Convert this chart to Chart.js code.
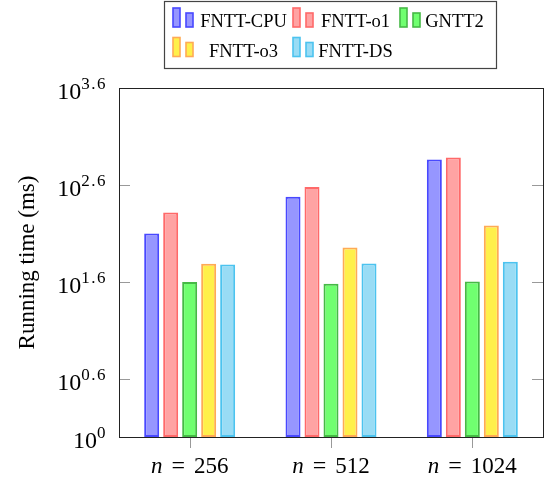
<!DOCTYPE html>
<html>
<head>
<meta charset="utf-8">
<script src="https://cdn.jsdelivr.net/npm/chart.js@4.4.1/dist/chart.umd.min.js"></script>
<style>
  body { margin: 0; background: #fff; }
</style>
</head>
<body>
<canvas id="timeChart" width="550" height="490"></canvas>
<script>
// 데이터 (ms)
const categories = [256, 512, 1024];
const seriesNames = ['FNTT-CPU', 'FNTT-o1', 'GNTT2', 'FNTT-o3', 'FNTT-DS'];
const cpuTimes = [126, 300, 728];
const o1Times = [207, 380, 763];
const gnttTimes = [39.6, 38.0, 40.2];
const o3Times = [61.2, 90.1, 152];
const dsTimes = [60.2, 61.7, 64.2];
const yTickExps = [0, 0.6, 1.6, 2.6, 3.6];

const fillColors = ['rgb(150,150,255)', 'rgb(255,163,163)', 'rgb(112,255,112)', 'rgb(255,240,74)', 'rgb(153,220,245)'];
const borderColors = ['rgb(72,72,255)', 'rgb(255,105,105)', 'rgb(70,185,70)', 'rgb(255,170,85)', 'rgb(76,195,239)'];
const seriesValues = [cpuTimes, o1Times, gnttTimes, o3Times, dsTimes];

const serif = '"Liberation Serif", "Times New Roman", serif';

// 축, 눈금, 범례를 직접 그리는 플러그인
const axisDecor = {
    id: 'axisDecor',
    afterDraw(chart) {
        const ctx = chart.ctx;
        const a = chart.chartArea;
        const xs = chart.scales.x;
        const ys = chart.scales.y;
        ctx.save();

        // 눈금선
        ctx.strokeStyle = '#999';
        ctx.lineWidth = 1;
        yTickExps.forEach(e => {
            const py = Math.round(ys.getPixelForValue(Math.pow(10, e))) + 0.5;
            ctx.beginPath();
            ctx.moveTo(a.left, py); ctx.lineTo(a.left + 11, py);
            ctx.moveTo(a.right - 11, py); ctx.lineTo(a.right, py);
            ctx.stroke();
        });
        categories.forEach((c, i) => {
            const px = Math.round(xs.getPixelForValue(i)) + 0.5;
            ctx.beginPath();
            ctx.moveTo(px, a.bottom); ctx.lineTo(px, a.bottom + 11);
            ctx.stroke();
        });

        // 테두리
        ctx.strokeStyle = '#222';
        ctx.strokeRect(Math.round(a.left) + 0.5, Math.round(a.top) + 0.5,
            Math.round(a.right - a.left), Math.round(a.bottom - a.top));

        // y축 라벨 10^x
        ctx.fillStyle = '#000';
        ctx.textAlign = 'left';
        ctx.textBaseline = 'alphabetic';
        const rightEdge = a.left - 12;
        yTickExps.forEach(e => {
            const py = ys.getPixelForValue(Math.pow(10, e));
            const expText = e === 0 ? '0' : e.toFixed(1);
            ctx.font = '17px ' + serif;
            ctx.letterSpacing = '1.5px';
            const expW = ctx.measureText(expText).width;
            ctx.letterSpacing = '0px';
            ctx.font = '24px ' + serif;
            const baseW = ctx.measureText('10').width;
            ctx.fillText('10', rightEdge - expW - baseW, py + 11);
            ctx.font = '17px ' + serif;
            ctx.letterSpacing = '1.5px';
            ctx.fillText(expText, rightEdge - expW, py + 1);
            ctx.letterSpacing = '0px';
        });

        // x축 라벨 n = ...
        const gap = 9;
        categories.forEach((c, i) => {
            const px = xs.getPixelForValue(i);
            ctx.font = 'italic 23px ' + serif;
            const nW = ctx.measureText('n').width;
            ctx.font = '24px ' + serif;
            const eqW = ctx.measureText('=').width;
            ctx.font = '23px ' + serif;
            const numW = ctx.measureText(String(c)).width;
            let x0 = px - (nW + eqW + numW + 2 * gap) / 2;
            const base = a.bottom + 36;
            ctx.font = 'italic 23px ' + serif;
            ctx.fillText('n', x0, base);
            x0 += nW + gap;
            ctx.font = '24px ' + serif;
            ctx.fillText('=', x0, base);
            x0 += eqW + gap;
            ctx.font = '23px ' + serif;
            ctx.fillText(String(c), x0, base);
        });

        // y축 제목
        ctx.save();
        ctx.translate(28, (a.top + a.bottom) / 2);
        ctx.rotate(-Math.PI / 2);
        ctx.textAlign = 'center';
        ctx.textBaseline = 'middle';
        ctx.font = '23px ' + serif;
        ctx.fillText('Running time (ms)', 0, 0);
        ctx.restore();

        // 범례
        ctx.strokeStyle = '#444';
        ctx.lineWidth = 1.2;
        ctx.strokeRect(164.5, 1.5, 332, 67);
        const legendCols = [{ icon: 173, text: 243.5 }, { icon: 293, text: 355.5 }, { icon: 400, text: 454.5 }];
        const legendRows = [27, 56.5];
        chart.data.datasets.forEach((ds, i) => {
            const col = legendCols[i % 3];
            const base = legendRows[Math.floor(i / 3)];
            ctx.fillStyle = ds.backgroundColor;
            ctx.strokeStyle = ds.borderColor;
            ctx.lineWidth = 1.6;
            ctx.fillRect(col.icon, base - 19, 7, 19);
            ctx.strokeRect(col.icon, base - 19, 7, 19);
            ctx.fillRect(col.icon + 13, base - 14, 7, 14);
            ctx.strokeRect(col.icon + 13, base - 14, 7, 14);
            ctx.fillStyle = '#000';
            ctx.font = '18.5px ' + serif;
            ctx.textAlign = 'center';
            ctx.textBaseline = 'alphabetic';
            ctx.fillText(ds.label, col.text, base);
        });

        ctx.restore();
    }
};

const ctx = document.getElementById('timeChart').getContext('2d');

new Chart(ctx, {
    type: 'bar',
    data: {
        labels: categories.map(c => 'n = ' + c),
        datasets: seriesNames.map((name, i) => ({
            label: name,
            data: seriesValues[i],
            backgroundColor: fillColors[i],
            borderColor: borderColors[i],
            borderWidth: 2,
            borderSkipped: false,
            categoryPercentage: 0.672,
            barPercentage: 0.79
        }))
    },
    options: {
        responsive: false,
        animation: false,
        layout: {
            padding: { left: 119, right: 7, top: 88, bottom: 53 }
        },
        plugins: {
            legend: { display: false },
            tooltip: { enabled: false }
        },
        scales: {
            x: { display: false },
            y: {
                display: false,
                type: 'logarithmic',
                min: 1,
                max: Math.pow(10, 3.6)
            }
        }
    },
    plugins: [axisDecor]
});
</script>
</body>
</html>
